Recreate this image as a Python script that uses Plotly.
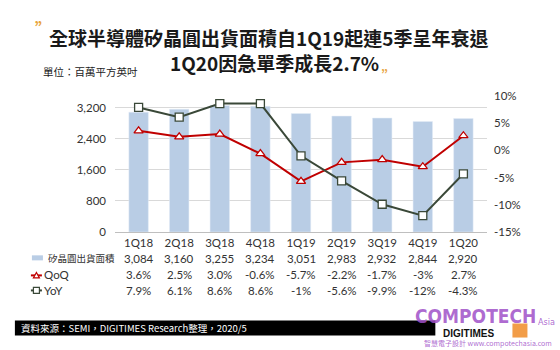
import plotly.graph_objects as go

categories = ["1Q18", "2Q18", "3Q18", "4Q18", "1Q19", "2Q19", "3Q19", "4Q19", "1Q20"]
area = [3084, 3160, 3255, 3234, 3051, 2983, 2932, 2844, 2920]
qoq = [3.6, 2.5, 3.0, -0.6, -5.7, -2.2, -1.7, -3.0, 2.7]
yoy = [7.9, 6.1, 8.6, 8.6, -1.0, -5.6, -9.9, -12.0, -4.3]
area_labels = ["3,084", "3,160", "3,255", "3,234", "3,051", "2,983", "2,932", "2,844", "2,920"]
qoq_labels = ["3.6%", "2.5%", "3.0%", "-0.6%", "-5.7%", "-2.2%", "-1.7%", "-3%", "2.7%"]
yoy_labels = ["7.9%", "6.1%", "8.6%", "8.6%", "-1%", "-5.6%", "-9.9%", "-12%", "-4.3%"]
left_ticks = [0, 800, 1600, 2400, 3200]
right_ticks = [-15, -10, -5, 0, 5, 10]
right_tick_text = ["-15%", "-10%", "-5%", "0%", "5%", "10%"]

W, H = 560, 350
L, R, T, B = 115, 486.6, 96, 231.7

def px(x):
    return (x - L) / (R - L)

def py(y):
    return (B - y) / (B - T)

BAR = "#B9CDE5"
RED = "#C00000"
DARK = "#3A4838"
CJK = "Noto Sans CJK TC"
NUM = "Lato, Noto Sans CJK TC"
WM = "rgba(160,80,200,0.85)"
COND = "DejaVu Sans Condensed"

fig = go.Figure()
fig.add_trace(go.Bar(x=categories, y=area, marker_color=BAR, width=0.48,
                     name="矽晶圓出貨面積", yaxis="y"))
fig.add_trace(go.Scatter(x=categories, y=qoq, mode="lines+markers", name="QoQ",
                         yaxis="y2", line=dict(color=RED, width=2),
                         marker=dict(symbol="triangle-up", size=8, color="white",
                                     line=dict(color=RED, width=1.3))))
fig.add_trace(go.Scatter(x=categories, y=yoy, mode="lines+markers", name="YoY",
                         yaxis="y2", line=dict(color=DARK, width=2),
                         marker=dict(symbol="square", size=8, color="white",
                                     line=dict(color=DARK, width=1.3))))

fig.update_layout(
    width=W, height=H, autosize=False,
    margin=dict(l=L, r=W - R, t=T, b=H - B, pad=0),
    paper_bgcolor="white", plot_bgcolor="white",
    showlegend=False,
    font=dict(family=NUM, size=11.5, color="#333333"),
    xaxis=dict(showgrid=False, showline=True, linecolor="#BFBFBF", linewidth=1,
               ticks="", tickfont=dict(size=11.5, color="#333333")),
    yaxis=dict(range=[0, 3500], tickvals=left_ticks, tickformat=",",
               showgrid=True, gridcolor="#D9D9D9", gridwidth=1, zeroline=False,
               showline=False, ticklabelstandoff=8,
               tickfont=dict(size=11.5, color="#333333")),
    yaxis2=dict(range=[-15, 10], tickmode="array", tickvals=right_ticks,
                ticktext=right_tick_text,
                overlaying="y", side="right", showgrid=False, zeroline=False,
                showline=False, ticklabelstandoff=6,
                tickfont=dict(size=11.5, color="#333333")),
)

ann = []
# Title
ann.append(dict(text="<b>全球半導體矽晶圓出貨面積自1Q19起連5季呈年衰退</b>", x=px(268), y=py(37.5),
                xref="paper", yref="paper", showarrow=False, xanchor="center", yanchor="middle",
                font=dict(family=CJK, size=19, color="#1A1A1A")))
ann.append(dict(text="<b>1Q20因急單季成長2.7%</b>", x=px(274.5), y=py(62.5),
                xref="paper", yref="paper", showarrow=False, xanchor="center", yanchor="middle",
                font=dict(family=CJK, size=19, color="#1A1A1A")))
ann.append(dict(text="<b>”</b>", x=px(43), y=py(28), xref="paper", yref="paper", showarrow=False,
                xanchor="center", yanchor="middle", font=dict(family=CJK, size=16, color="#E8A33C")))
ann.append(dict(text="<b>„</b>", x=px(384), y=py(66), xref="paper", yref="paper", showarrow=False,
                xanchor="center", yanchor="middle", font=dict(family=CJK, size=12, color="#E8A33C")))
ann.append(dict(text="單位：百萬平方英吋", x=px(41), y=py(72), xref="paper", yref="paper",
                showarrow=False, xanchor="left", yanchor="middle",
                font=dict(family=CJK, size=10.5, color="#222222")))

# Data table
rows = [(258, area_labels), (274, qoq_labels), (290, yoy_labels)]
for yy, labels in rows:
    for c, t in zip(categories, labels):
        ann.append(dict(text=t, x=c, y=py(yy), xref="x", yref="paper", showarrow=False,
                        xanchor="center", yanchor="middle",
                        font=dict(family=NUM, size=11.5, color="#333333")))
ann.append(dict(text="矽晶圓出貨面積", x=px(46), y=py(258), xref="paper", yref="paper",
                showarrow=False, xanchor="left", yanchor="middle",
                font=dict(family=CJK, size=9.5, color="#333333")))
ann.append(dict(text="QoQ", x=px(42), y=py(274), xref="paper", yref="paper",
                showarrow=False, xanchor="left", yanchor="middle",
                font=dict(family=NUM, size=11.5, color="#333333")))
ann.append(dict(text="YoY", x=px(42), y=py(290), xref="paper", yref="paper",
                showarrow=False, xanchor="left", yanchor="middle",
                font=dict(family=NUM, size=11.5, color="#333333")))

# Footer
ann.append(dict(text="資料來源：SEMI，DIGITIMES Research整理，2020/5", x=px(19), y=py(327.5),
                xref="paper", yref="paper", showarrow=False, xanchor="left", yanchor="middle",
                font=dict(family=CJK, size=9.5, color="white")))
# Watermark
ann.append(dict(text="<b>COMPOTECH</b>", x=px(475), y=py(315.5), xref="paper", yref="paper",
                showarrow=False, xanchor="center", yanchor="middle",
                font=dict(family=COND, size=19, color=WM)))
ann.append(dict(text="Asia", x=px(546), y=py(322), xref="paper", yref="paper",
                showarrow=False, xanchor="center", yanchor="middle",
                font=dict(family=COND, size=9, color=WM)))
ann.append(dict(text="<b>DIGITIMES</b>", x=px(468), y=py(332.5), xref="paper", yref="paper",
                showarrow=False, xanchor="center", yanchor="middle",
                font=dict(family="Liberation Sans", size=10, color="#111111")))
ann.append(dict(text="智慧電子設計 www.compotechasia.com", x=px(488), y=py(342.5), xref="paper", yref="paper",
                showarrow=False, xanchor="center", yanchor="middle",
                font=dict(family=CJK, size=7, color=WM)))
fig.update_layout(annotations=ann)

shapes = []
# legend icons
shapes.append(dict(type="rect", xref="paper", yref="paper", x0=px(32), x1=px(43),
                   y0=py(260), y1=py(255), fillcolor=BAR, line=dict(width=0)))
shapes.append(dict(type="line", xref="paper", yref="paper", x0=px(31), x1=px(42),
                   y0=py(275), y1=py(275), line=dict(color=RED, width=2)))
shapes.append(dict(type="path", xref="paper", yref="paper",
                   path=f"M {px(33.5)} {py(277.5)} L {px(39.5)} {py(277.5)} L {px(36.5)} {py(272)} Z",
                   fillcolor="white", line=dict(color=RED, width=1.2)))
shapes.append(dict(type="line", xref="paper", yref="paper", x0=px(31), x1=px(42),
                   y0=py(290), y1=py(290), line=dict(color=DARK, width=2)))
shapes.append(dict(type="rect", xref="paper", yref="paper", x0=px(33.5), x1=px(39.5),
                   y0=py(293), y1=py(287), fillcolor="white", line=dict(color=DARK, width=1.2)))
# footer bar
shapes.append(dict(type="rect", xref="paper", yref="paper", x0=px(15), x1=px(435),
                   y0=py(335), y1=py(320), fillcolor="black", line=dict(width=0), layer="below"))
shapes.append(dict(type="rect", xref="paper", yref="paper", x0=px(512), x1=px(527),
                   y0=py(337), y1=py(323), fillcolor="rgba(240,140,40,0.85)", line=dict(width=0)))
fig.update_layout(shapes=shapes)

fig.write_html("out.html")
